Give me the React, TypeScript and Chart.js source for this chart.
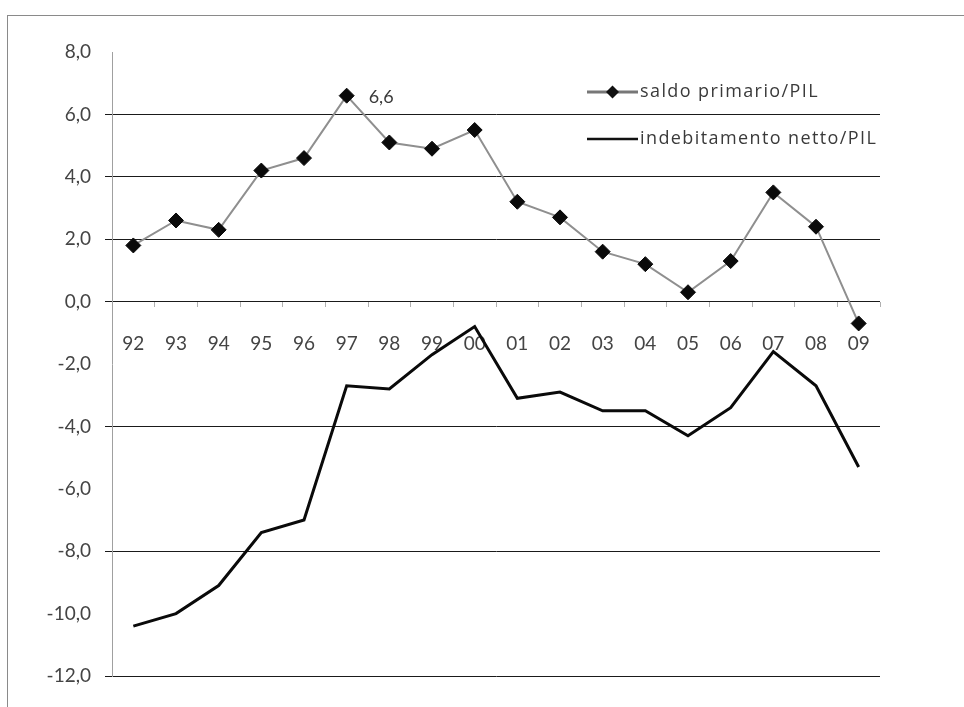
import React, { useEffect, useRef } from "react";
import { Chart, registerables } from "chart.js";

Chart.register(...registerables);

const years = ["92", "93", "94", "95", "96", "97", "98", "99", "00", "01", "02", "03", "04", "05", "06", "07", "08", "09"];
const saldoPrimario = [1.8, 2.6, 2.3, 4.2, 4.6, 6.6, 5.1, 4.9, 5.5, 3.2, 2.7, 1.6, 1.2, 0.3, 1.3, 3.5, 2.4, -0.7];
const indebitamentoNetto = [-10.4, -10.0, -9.1, -7.4, -7.0, -2.7, -2.8, -1.7, -0.8, -3.1, -2.9, -3.5, -3.5, -4.3, -3.4, -1.6, -2.7, -5.3];
const seriesNames = ["saldo primario/PIL", "indebitamento netto/PIL"];
const yMin = -12;
const yMax = 8;
const yStep = 2;
const gridValuesWithoutLine = [8, -2, -6, -10];
const labelledPointIndex = 5;

const AXIS_FONT = "Lato";
const fmt = (v: number) => v.toFixed(1).replace(".", ",");

const legendPlugin = {
  id: "customLegend",
  afterDraw(chart: any) {
    const { ctx, chartArea } = chart;
    const x0 = chartArea.right - 293;
    const lineLen = 51;
    const rows = [chartArea.top + 40, chartArea.top + 87];
    ctx.save();
    ctx.font = "18px 'Open Sans'";
    try {
      (ctx as any).letterSpacing = "1.4px";
    } catch (e) {}
    ctx.textBaseline = "middle";
    ctx.textAlign = "left";
    // series 1
    ctx.strokeStyle = "#777";
    ctx.lineWidth = 3;
    ctx.beginPath();
    ctx.moveTo(x0, rows[0]);
    ctx.lineTo(x0 + lineLen, rows[0]);
    ctx.stroke();
    ctx.fillStyle = "#111";
    const cx = x0 + lineLen / 2;
    const r = 6.5;
    ctx.beginPath();
    ctx.moveTo(cx, rows[0] - r);
    ctx.lineTo(cx + r, rows[0]);
    ctx.lineTo(cx, rows[0] + r);
    ctx.lineTo(cx - r, rows[0]);
    ctx.closePath();
    ctx.fill();
    // series 2
    ctx.strokeStyle = "#111";
    ctx.lineWidth = 2.5;
    ctx.beginPath();
    ctx.moveTo(x0, rows[1]);
    ctx.lineTo(x0 + lineLen, rows[1]);
    ctx.stroke();
    ctx.fillStyle = "#3a3a3a";
    ctx.fillText(seriesNames[0], x0 + lineLen + 2, rows[0]);
    ctx.fillText(seriesNames[1], x0 + lineLen + 2, rows[1]);
    ctx.restore();
  },
};

const dataLabelPlugin = {
  id: "dataLabel",
  afterDatasetsDraw(chart: any) {
    const meta = chart.getDatasetMeta(0);
    const el = meta.data[labelledPointIndex];
    if (!el) return;
    const { ctx } = chart;
    ctx.save();
    ctx.font = `18px ${AXIS_FONT}`;
    ctx.fillStyle = "#3a3a3a";
    ctx.textAlign = "left";
    ctx.textBaseline = "middle";
    ctx.fillText(fmt(saldoPrimario[labelledPointIndex]), el.x + 22, el.y + 2);
    ctx.restore();
  },
};

export default function App() {
  const canvasRef = useRef<HTMLCanvasElement | null>(null);

  useEffect(() => {
    document.body.style.margin = "0";
    document.body.style.overflow = "hidden";
    const canvas = canvasRef.current;
    if (!canvas) return;
    const chart = new Chart(canvas, {
      type: "line",
      data: {
        labels: years,
        datasets: [
          {
            label: seriesNames[0],
            data: saldoPrimario,
            borderColor: "#8f8f8f",
            borderWidth: 2,
            pointStyle: "rectRot",
            pointRadius: 7.5,
            pointHoverRadius: 7.5,
            pointBackgroundColor: "#0a0a0a",
            pointBorderColor: "#0a0a0a",
            pointBorderWidth: 1,
            tension: 0,
          },
          {
            label: seriesNames[1],
            data: indebitamentoNetto,
            borderColor: "#0a0a0a",
            borderWidth: 3,
            pointRadius: 0,
            tension: 0,
          },
        ],
      },
      options: {
        responsive: false,
        animation: false,
        events: [],
        layout: { padding: { left: 0, top: 52, right: 84, bottom: 31 } },
        plugins: {
          legend: { display: false },
          tooltip: { enabled: false },
          title: { display: false },
        },
        scales: {
          x: {
            type: "category",
            position: { y: 0 } as any,
            offset: true,
            grid: {
              offset: true,
              drawOnChartArea: false,
              drawTicks: true,
              tickLength: 5,
              color: "#b0b0b0",
            },
            border: { display: false },
            ticks: {
              autoSkip: false,
              maxRotation: 0,
              padding: 26,
              color: "#444",
              font: { family: AXIS_FONT, size: 19 },
            },
          },
          y: {
            min: yMin,
            max: yMax,
            afterFit: (scale: any) => {
              scale.width = 112;
            },
            ticks: {
              stepSize: yStep,
              padding: 14,
              color: "#444",
              font: { family: AXIS_FONT, size: 19 },
              callback: (v: any) => fmt(Number(v)),
            },
            grid: {
              tickLength: 7,
              lineWidth: 1,
              color: (c: any) =>
                c.tick && gridValuesWithoutLine.includes(c.tick.value) ? "rgba(0,0,0,0)" : "#1a1a1a",
            },
            border: { display: true, color: "#a0a0a0", width: 1 },
          },
        },
      },
      plugins: [legendPlugin, dataLabelPlugin],
    });
    return () => chart.destroy();
  }, []);

  return (
    <div style={{ position: "fixed", left: 0, top: 0, width: 964, height: 707, overflow: "hidden", background: "#fff" }}>
      <div
        style={{
          position: "absolute",
          left: 7,
          top: 15,
          width: 1100,
          height: 1000,
          border: "1px solid #8a8a8a",
          boxSizing: "border-box",
        }}
      />
      <canvas ref={canvasRef} width={964} height={707} style={{ position: "absolute", left: 0, top: 0, display: "block" }} />
    </div>
  );
}
